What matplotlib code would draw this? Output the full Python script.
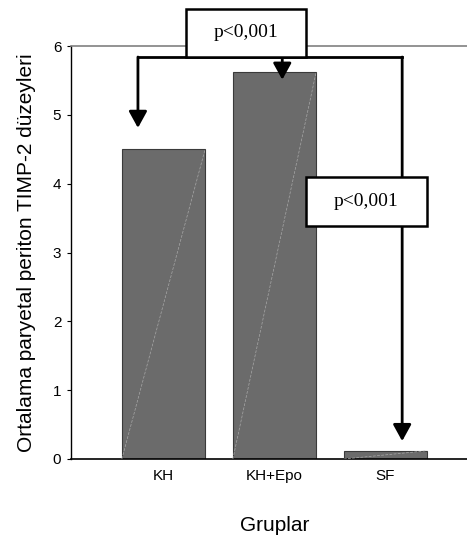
import matplotlib
matplotlib.use("Agg")
import matplotlib.pyplot as plt
from matplotlib.patches import Rectangle

categories = ["KH", "KH+Epo", "SF"]
values = [4.50, 5.62, 0.12]
yticks = [0, 1, 2, 3, 4, 5, 6]
p_label = "p<0,001"
xlabel = "Gruplar"
ylabel = "Ortalama paryetal periton TIMP-2 düzeyleri"

plt.rcParams['font.family'] = ['Liberation Sans', 'DejaVu Sans']

fig = plt.figure(figsize=(4.67, 5.38), dpi=100)
ax = fig.add_axes([71/467, 1-459/538, (467-71)/467, (459-46)/538])

xs = list(range(len(categories)))
bw = 0.75
ax.bar(xs, values, width=bw, color="#6b6b6b", edgecolor="#3a3a3a", linewidth=0.8, zorder=2)
# faint diagonal artifacts inside bars
for x, v in zip(xs, values):
    ax.plot([x - bw/2, x + bw/2], [0, v], color="#a8a8a8", lw=0.5, ls=(0, (4, 2)), zorder=3)

ax.set_xlim(-0.833, 2.734)
ax.set_ylim(0, 6)
ax.set_yticks(yticks)
ax.set_yticklabels([str(t) for t in yticks], fontsize=11)
ax.set_xticks(xs)
ax.set_xticklabels(categories, fontsize=11)
ax.tick_params(axis='x', length=0, pad=7)
ax.tick_params(axis='y', length=3, width=0.8, pad=4)

ax.spines['right'].set_visible(False)
ax.spines['top'].set_color("#808080")
ax.spines['top'].set_linewidth(1.2)
ax.spines['left'].set_linewidth(1.0)
ax.spines['bottom'].set_linewidth(1.2)

ax.set_xlabel(xlabel, fontsize=15)
ax.xaxis.set_label_coords(0.515, -0.137)
ax.set_ylabel(ylabel, fontsize=15, labelpad=12)

# significance brackets
lw = 2
ybr = 5.84
xl, xm, xr = -0.23, 1.07, 2.15
ax.plot([xl, xr], [ybr, ybr], color="black", lw=lw, clip_on=False, zorder=5, solid_capstyle='projecting')
arrow_kw = dict(arrowstyle="-|>,head_length=1.0,head_width=0.55", color="black", lw=lw, shrinkA=0, shrinkB=0)
ax.annotate("", xy=(xl, 4.81), xytext=(xl, ybr), arrowprops=arrow_kw, annotation_clip=False, zorder=6)
ax.annotate("", xy=(xm, 5.51), xytext=(xm, ybr), arrowprops=arrow_kw, annotation_clip=False, zorder=6)
ax.annotate("", xy=(xr, 0.26), xytext=(xr, ybr), arrowprops=arrow_kw, annotation_clip=False, zorder=6)

# boxes
for (x0, x1, y0, y1) in [(0.20, 1.28, 5.84, 6.54), (1.28, 2.37, 3.39, 4.10)]:
    ax.add_patch(Rectangle((x0, y0), x1 - x0, y1 - y0, facecolor="white", edgecolor="black",
                           lw=1.8, clip_on=False, zorder=7))
    ax.text((x0 + x1)/2, (y0 + y1)/2, p_label, ha="center", va="center", fontsize=14,
            family=["Liberation Serif", "DejaVu Serif"], zorder=8, clip_on=False)

fig.savefig("out.png", dpi=100)
